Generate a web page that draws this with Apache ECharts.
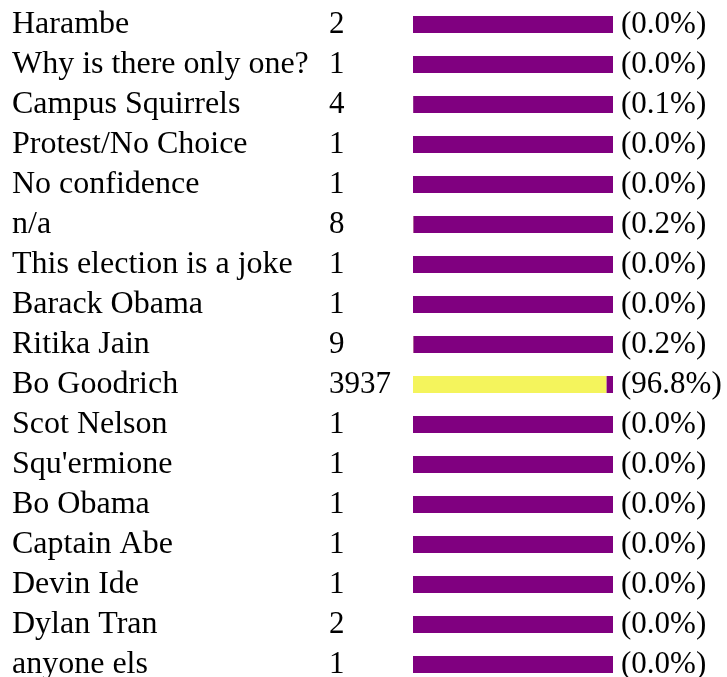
<!DOCTYPE html>
<html>
<head>
<meta charset="utf-8">
<script src="https://cdn.jsdelivr.net/npm/echarts@6/dist/echarts.min.js"></script>
<style>
  html, body { margin: 0; padding: 0; background: #fff; }
  #main { width: 727px; height: 677px; }
</style>
</head>
<body>
<div id="main"></div>
<script>
// rows as they appear, top to bottom
var names = ['Harambe', 'Why is there only one?', 'Campus Squirrels', 'Protest/No Choice',
  'No confidence', 'n/a', 'This election is a joke', 'Barack Obama', 'Ritika Jain',
  'Bo Goodrich', 'Scot Nelson', "Squ'ermione", 'Bo Obama', 'Captain Abe', 'Devin Ide',
  'Dylan Tran', 'anyone els'];
var counts = [2, 1, 4, 1, 1, 8, 1, 1, 9, 3937, 1, 1, 1, 1, 1, 2, 1];
// as printed in the picture (total includes votes not listed here)
var percents = [0.0, 0.0, 0.1, 0.0, 0.0, 0.2, 0.0, 0.0, 0.2, 96.8, 0.0, 0.0, 0.0, 0.0, 0.0, 0.0, 0.0];

var rest = percents.map(function (p) { return 100 - p; });

var font = '"Liberation Serif", "Times New Roman", serif';

var myChart = echarts.init(document.getElementById('main'));
myChart.setOption({
  animation: false,
  grid: { left: 413, width: 200, top: 4.5, height: 680, outerBoundsMode: 'none' },
  xAxis: {
    type: 'value', min: 0, max: 100,
    show: false
  },
  yAxis: {
    type: 'category',
    inverse: true,
    data: names,
    axisLine: { show: false },
    axisTick: { show: false },
    axisLabel: {
      align: 'left',
      margin: 401,
      formatter: function (v, i) {
        return '{n|' + v + '}{c|' + counts[i] + '}';
      },
      rich: {
        n: { width: 317, fontFamily: font, fontSize: 32, color: '#000' },
        c: { fontFamily: font, fontSize: 31, color: '#000' }
      }
    }
  },
  series: [{
    type: 'bar',
    stack: 'v',
    data: percents,
    barWidth: 17,
    itemStyle: { color: '#f4f45c' }
  }, {
    type: 'bar',
    stack: 'v',
    data: rest,
    barWidth: 17,
    itemStyle: { color: '#800080' },
    label: {
      show: true,
      position: 'right',
      distance: 8,
      fontFamily: font,
      fontSize: 31,
      color: '#000',
      formatter: function (p) {
        return '(' + percents[p.dataIndex].toFixed(1) + '%)';
      }
    }
  }]
});
</script>
</body>
</html>
